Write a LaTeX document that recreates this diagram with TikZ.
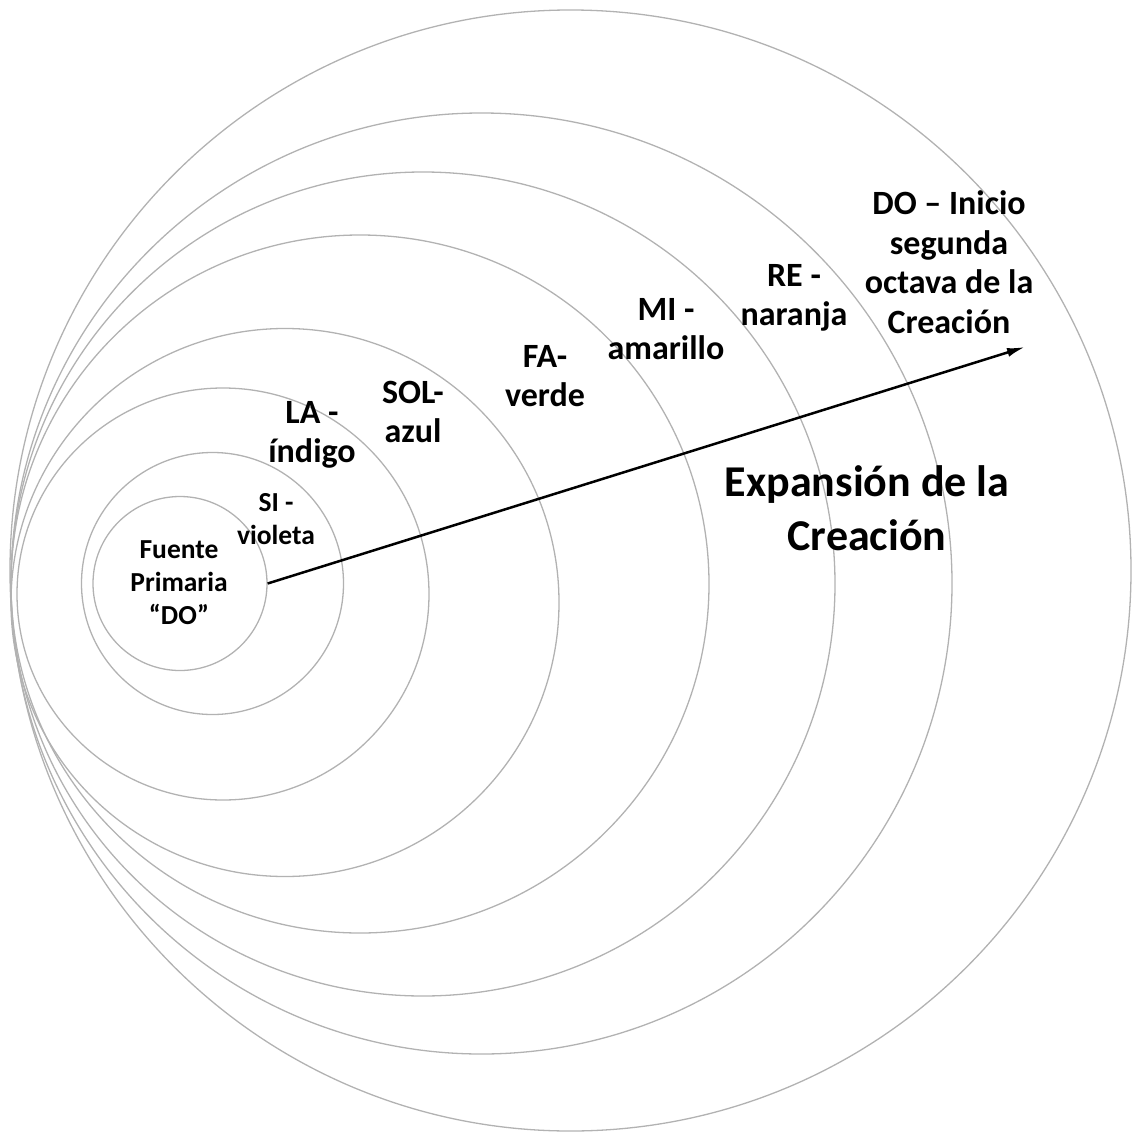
\documentclass[tikz,border=0pt]{standalone}
\usepackage{fontspec}
\setmainfont{Carlito}
\usetikzlibrary{arrows.meta}

\begin{document}
\begin{tikzpicture}[x=1pt,y=-1pt,>={Latex[length=18pt,width=9pt]},
  anillo/.style={circle,draw=black!30,line width=1.3pt,inner sep=0pt},
  nota/.style={align=center,font=\bfseries\fontsize{34}{39.5}\selectfont},
  notachica/.style={align=center,font=\bfseries\fontsize{27.5}{33}\selectfont},
  notagrande/.style={align=center,font=\bfseries\fontsize{44}{54}\selectfont}]
  \useasboundingbox (0,0) rectangle (1134,1137);
  % ocho circulos, todos tocan el borde izquierdo
  \node[anillo,minimum size=1121pt] (cdo) at (570.5,570.5){};
  \node[anillo,minimum size=941pt] (cre) at (481.5,583.5){};
  \node[anillo,minimum size=824pt] (cmi) at (423,584){};
  \node[anillo,minimum size=698pt] (cfa) at (360,584){};
  \node[anillo,minimum size=548pt] (csol) at (285,602.5){};
  \node[anillo,minimum size=412pt] (cla) at (223,594){};
  \node[anillo,minimum size=262pt] (csi) at (212.5,583.5){};
  \node[anillo,minimum size=174pt] (cfuente) at (180,583.5){};
  % notas de cada nota musical
  \node[notachica] (fuente) at (179,583){Fuente\\Primaria\\“DO”};
  \node[notachica] (si) at (276,519){SI -\\violeta};
  \node[nota] (la) at (312,435){LA -\\índigo};
  \node[nota] (sol) at (413,412){SOL-\\azul};
  \node[nota] (fa) at (545,376){FA-\\verde};
  \node[nota] (mi) at (666,329){MI -\\amarillo};
  \node[nota] (re) at (794,298){RE -\\naranja};
  \node[nota] (do) at (949,262){DO – Inicio\\segunda\\octava de la\\Creación};
  \node[notagrande] (exp) at (867,508){Expansión de la\\Creación};
  % flecha de expansion
  \coordinate (punta) at (1025,347);
  \draw[->,line width=2.5pt] (cfuente.east) -- (punta);
\end{tikzpicture}
\end{document}
